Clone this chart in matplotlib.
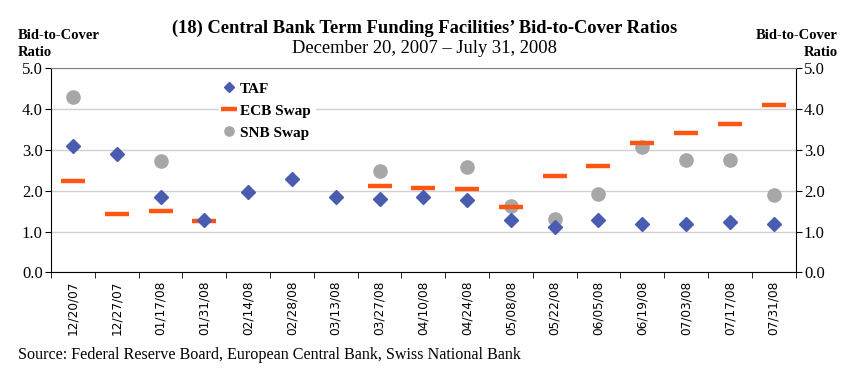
import numpy as np
import matplotlib
matplotlib.use("Agg")
import matplotlib.pyplot as plt

# Fechas de las subastas
fechas = ["12/20/07", "12/27/07", "01/17/08", "01/31/08", "02/14/08", "02/28/08",
          "03/13/08", "03/27/08", "04/10/08", "04/24/08", "05/08/08", "05/22/08",
          "06/05/08", "06/19/08", "07/03/08", "07/17/08", "07/31/08"]

taf = [3.08, 2.88, 1.85, 1.27, 1.97, 2.27, 1.85, 1.79, 1.85, 1.76, 1.28, 1.11,
       1.28, 1.19, 1.19, 1.23, 1.19]
ecb = [2.23, 1.43, 1.51, 1.25, np.nan, np.nan, np.nan, 2.10, 2.06, 2.03, 1.61, 2.36,
       2.61, 3.15, 3.40, 3.62, 4.09]
snb = [4.27, np.nan, 2.73, np.nan, np.nan, np.nan, np.nan, 2.48, np.nan, 2.58, 1.63, 1.30,
       1.91, 3.06, 2.75, 2.75, 1.89]

serif = "Liberation Serif"
x = np.arange(len(fechas))

fig = plt.figure(figsize=(8.5, 3.74), dpi=100)
ax = fig.add_axes([0.060, 0.2714, 0.876, 0.548])

ax.plot(x, ecb, linestyle="none", marker="_", markersize=17, markeredgewidth=3.2,
        color="#FF5512", label="ECB Swap", zorder=3)
ax.plot(x, snb, linestyle="none", marker="o", markersize=9.5,
        color="#A6A7A9", label="SNB Swap", zorder=2)
ax.plot(x, taf, linestyle="none", marker="D", markersize=7.5,
        color="#4A5CB0", label="TAF", zorder=4)

ax.set_xlim(-0.5, len(fechas) - 0.5)
ax.set_ylim(0, 5)
ax.set_yticks([0, 1, 2, 3, 4, 5])
ax.set_yticklabels(["0.0", "1.0", "2.0", "3.0", "4.0", "5.0"], family=serif, fontsize=12)
ax.tick_params(axis="y", which="both", direction="out", length=4, left=True, right=True,
               labelleft=True, labelright=True, pad=2)

ax.set_xticks(x)
ax.set_xticklabels(fechas, rotation=90, fontsize=8.7, family="DejaVu Sans")
ax.set_xticks(np.arange(-0.5, len(fechas), 1.0), minor=True)
ax.tick_params(axis="x", which="major", length=0, pad=6)
ax.tick_params(axis="x", which="minor", length=4, direction="out")

ax.grid(axis="y", color="#D0D0D0", linewidth=1)
ax.set_axisbelow(True)
ax.spines["top"].set_color("#808080")
for s in ["left", "right", "bottom"]:
    ax.spines[s].set_color("black")

handles, labels = ax.get_legend_handles_labels()
orden = [2, 0, 1]
leg = ax.legend([handles[i] for i in orden], [labels[i] for i in orden],
                loc="upper left", bbox_to_anchor=(0.215, 0.99), frameon=True,
                framealpha=1, edgecolor="white", facecolor="white",
                prop={"family": serif, "weight": "bold", "size": 11},
                handlelength=0.8, handletextpad=0.3, labelspacing=0.55,
                borderpad=0.3, markerscale=0.7)

fig.text(0.5, 0.925, "(18) Central Bank Term Funding Facilities\u2019 Bid-to-Cover Ratios",
         ha="center", va="center", family=serif, weight="bold", fontsize=13.3)
fig.text(0.5, 0.871, "December 20, 2007 \u2013 July 31, 2008",
         ha="center", va="center", family=serif, fontsize=13.3)

fig.text(0.021, 0.882, "Bid-to-Cover\nRatio", ha="left", va="center", family=serif,
         weight="bold", fontsize=10.5, linespacing=1.45)
fig.text(0.986, 0.882, "Bid-to-Cover\nRatio", ha="right", va="center", family=serif,
         weight="bold", fontsize=10.5, linespacing=1.45, multialignment="right")

fig.text(0.021, 0.05, "Source: Federal Reserve Board, European Central Bank, Swiss National Bank",
         ha="left", va="center", family=serif, fontsize=11.6)

fig.savefig("out.png", dpi=100)
plt.close(fig)
